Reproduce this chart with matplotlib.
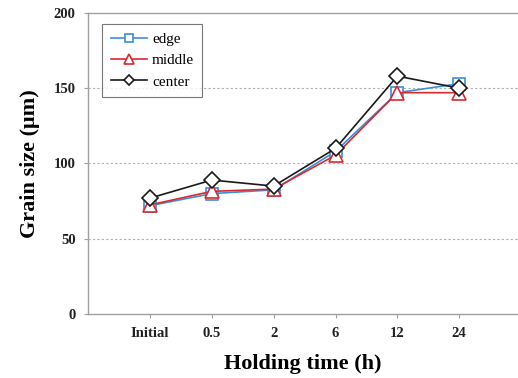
import matplotlib
matplotlib.use('Agg')
import matplotlib.pyplot as plt

categories = ['Initial', '0.5', '2', '6', '12', '24']
edge = [72, 80, 82.5, 108, 147, 153]
middle = [72.5, 81.5, 83, 105.5, 147, 147]
center = [77, 89, 85, 110, 158, 150]

plt.rcParams['font.family'] = 'Liberation Serif'

fig = plt.figure(figsize=(5.18, 3.78), dpi=100)
ax = fig.add_axes([0.170, 0.169, 0.830, 0.797])

x = list(range(len(categories)))
ax.plot(x, edge, color='#3b8fd8', lw=1.2, marker='s', ms=9,
        mfc='white', mec='#3b8fd8', mew=1.2, label='edge', zorder=3)
ax.plot(x, middle, color='#d92a30', lw=1.2, marker='^', ms=10,
        mfc='white', mec='#d92a30', mew=1.2, label='middle', zorder=4)
ax.plot(x, center, color='#1a1a1a', lw=1.2, marker='D', ms=8,
        mfc='white', mec='#1a1a1a', mew=1.2, label='center', zorder=5)

ax.set_xlim(-1, 5.95)
ax.set_ylim(0, 200)
ax.set_yticks([0, 50, 100, 150, 200])
ax.set_xticks(x)
ax.set_xticklabels(categories)
for lab in ax.get_xticklabels() + ax.get_yticklabels():
    lab.set_fontweight('bold')
    lab.set_fontsize(10.5)
    lab.set_color('#222222')

for y in [50, 100, 150]:
    ax.axhline(y, color='#b0b0b0', lw=0.8, ls=(0, (2, 2)), zorder=1)

ax.spines['right'].set_visible(False)
for s in ['left', 'bottom', 'top']:
    ax.spines[s].set_color('#a0a0a0')
    ax.spines[s].set_linewidth(1.0)
ax.tick_params(axis='both', direction='out', length=3, color='#a0a0a0', pad=6)

ax.set_xlabel('Holding time (h)', fontsize=16, fontweight='bold', labelpad=10)
ax.set_ylabel('Grain size (\u03bcm)', fontsize=16, fontweight='bold', labelpad=10)

leg = ax.legend(loc='upper left', bbox_to_anchor=(0.033, 0.963), fontsize=11,
                fancybox=False, edgecolor='#555555', handlelength=2.4,
                borderpad=0.55, labelspacing=0.5, handletextpad=0.3,
                markerscale=0.65, borderaxespad=0, frameon=True)
leg.get_frame().set_linewidth(0.8)

plt.savefig('out.png', dpi=100)
